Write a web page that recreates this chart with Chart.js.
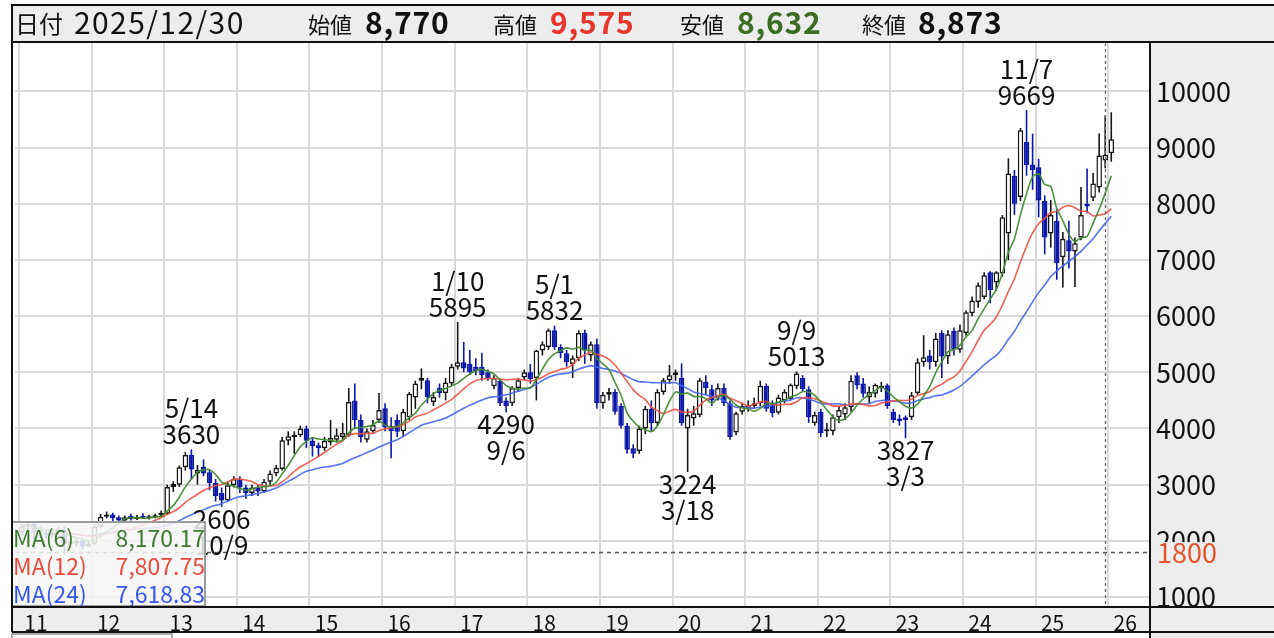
<!DOCTYPE html>
<html lang="ja">
<head>
<meta charset="utf-8">
<title>月足チャート</title>
<script src="https://cdn.jsdelivr.net/npm/chart.js@4.4.1/dist/chart.umd.min.js"></script>
<style>
html,body{margin:0;padding:0;background:#ffffff;overflow:hidden;}
#box{width:1274px;height:638px;position:relative;}
canvas{display:block;}
</style>
</head>
<body>
<div id="box"><canvas id="chart" width="1274" height="638"></canvas></div>
<script>
// ---------- data (monthly candles, Jan 2011 .. Jan 2026) ----------
const startYear = 2011;
const opens = [
  2150,2250,2300,2150,2150,2100,2150,2200,1950,1950,2000,1900, // 2011
  1950,2250,2430,2470,2420,2360,2440,2390,2440,2400,2420,2450, // 2012
  2480,2960,3000,3310,3530,3200,3320,3220,3030,2850,2720,2990, // 2013
  3100,2950,2850,2950,2880,3050,3200,3280,3780,3850,3880,4000, // 2014
  3780,3700,3650,3750,3800,3850,3880,4500,4150,3800,3950,4150, // 2015
  4360,4050,4150,3950,4200,4550,4850,4860,4470,4720,4630,4800, // 2016
  5100,5180,5150,5100,5100,5000,4750,4850,4500,4450,4720,4910, // 2017
  5000,4900,5390,5450,5750,5450,5340,5150,5250,5700,5300,5500, // 2018
  4450,4600,4650,4400,4050,3650,3600,4000,4350,4100,4650,4860, // 2019
  4950,4900,4000,4180,4240,4830,4700,4560,4720,4450,3930,4300, // 2020
  4350,4400,4450,4760,4450,4280,4500,4530,4750,4900,4700,4100, // 2021
  4300,3950,3950,4200,4250,4380,4950,4800,4550,4620,4720,4770, // 2022
  4300,4180,4200,4200,4630,5180,5300,5180,5700,5280,5740,5400, // 2023
  5700,6050,6250,6340,6780,6600,6760,7470,8500,8120,9100,8700, // 2024
  8650,8050,7470,7700,7050,7350,7150,7400,8000,8110,8290,8770, // 2025
  8900                                                         // 2026
];
const highs = [
  2300,2350,2350,2250,2200,2200,2250,2250,2050,2050,2050,2000,
  2300,2480,2520,2500,2450,2450,2480,2460,2490,2460,2480,2540,
  3000,3060,3340,3580,3630,3350,3450,3280,3100,2950,3050,3150,
  3150,3000,3000,3000,3100,3250,3350,3850,3950,3950,4050,4050,
  3850,3750,3850,4150,4000,4100,4720,4800,4250,4000,4150,4630,
  4450,4200,4250,4350,4650,4850,5070,4900,4650,4800,4900,5150,
  5895,5540,5400,5250,5350,5050,4950,4880,4550,4750,4900,5050,
  5150,5400,5550,5780,5832,5500,5400,5300,5750,5760,5550,5600,
  4650,4720,4700,4450,4100,3720,4050,4400,4500,4700,4900,5130,
  5050,5160,4350,4400,4900,4950,4780,4800,4800,4500,4300,4450,
  4500,4550,4850,4800,4500,4600,4700,4800,5013,4950,4750,4300,
  4350,4100,4250,4400,4450,4950,5000,4900,4750,4800,4830,4800,
  4350,4250,4230,4650,5250,5660,5400,5700,5750,5750,5800,5850,
  6100,6350,6600,6780,6800,6800,7800,8810,8600,9350,9669,9250,
  8800,8150,8070,7900,7500,7700,7400,8300,8630,8550,9250,9575,
  9630
];
const lows = [
  2100,2200,1850,2050,2050,2050,2100,1757,1880,1900,1850,1880,
  1930,2230,2400,2350,2300,2330,2360,2370,2390,2380,2400,2430,
  2460,2870,2960,3250,3100,3000,3150,2900,2700,2606,2700,2950,
  2850,2750,2800,2800,2850,3000,3150,3250,3700,3550,3850,3650,
  3500,3500,3600,3700,3750,3800,3850,4000,3750,3750,3900,4100,
  3950,3470,3850,3850,4150,4350,4700,4450,4400,4550,4500,4750,
  5050,5000,4950,4950,4850,4850,4700,4400,4290,4400,4650,4850,
  4800,4500,5300,5400,5400,5250,5100,4900,5200,5150,5200,4350,
  4350,4500,4250,4000,3550,3470,3550,3900,3950,4050,4600,4800,
  4850,4050,3224,4050,4200,4600,4400,4500,4400,3800,3880,4250,
  4300,4350,4400,4300,4200,4250,4450,4500,4700,4650,4100,4050,
  3850,3850,3880,4100,4150,4300,4700,4550,4450,4550,4650,4350,
  4100,4050,3827,4150,4600,5100,5050,5100,4900,5150,5300,5350,
  5650,6000,6150,6300,6230,6450,6700,7000,7800,8050,8500,8250,
  7760,7100,7220,6650,6510,6850,6520,7350,7830,8050,8200,8632,
  8750
];
const closes = [
  2250,2300,2150,2150,2100,2150,2200,1950,1950,2000,1900,1950,
  2250,2430,2470,2400,2360,2420,2390,2430,2410,2430,2450,2500,
  2960,3010,3310,3530,3270,3260,3200,3030,2800,2720,2990,3100,
  2950,2850,2950,2880,3050,3200,3300,3790,3860,3890,4000,3780,
  3690,3650,3780,3830,3880,3920,4470,4150,3850,3950,4060,4330,
  4020,3950,3940,4300,4620,4800,4900,4560,4560,4630,4820,5100,
  5180,5070,5000,5020,4950,4880,4900,4450,4400,4720,4860,5000,
  4880,5390,5500,5750,5450,5340,5180,5250,5700,5400,5500,4450,
  4600,4650,4300,4050,3620,3550,4000,4350,4100,4650,4860,4950,
  5000,4100,4240,4270,4860,4720,4500,4720,4450,3850,4270,4400,
  4420,4450,4760,4350,4270,4550,4650,4780,4980,4700,4200,4240,
  3920,3970,4200,4330,4380,4850,4770,4620,4650,4780,4760,4400,
  4150,4130,4150,4590,5180,5270,5180,5600,5280,5680,5400,5750,
  6070,6280,6550,6730,6460,6780,7760,8540,8000,9310,8690,8600,
  8060,7400,7800,6940,7380,7150,7300,7800,7950,8360,8860,8873,
  9150
];
// x-axis year labels (a label per January)
const yearLabels = ['11','12','13','14','15','16','17','18','19','20','21','22','23','24','25','26'];
// y-axis ticks
const priceTicks = [1000,2000,3000,4000,5000,6000,7000,8000,9000,10000];
// swing highs / lows annotated on the chart
const swingMonth = ['2013/05','2013/10','2017/01','2017/09','2018/05','2020/03','2021/09','2023/03','2024/11'];
const swingValue = [3630, 2606, 5895, 4290, 5832, 3224, 5013, 3827, 9669];
const swingDate  = ['5/14','10/9','1/10','9/6','5/1','3/18','9/9','3/3','11/7'];
const swingKind  = ['H','L','H','L','H','L','H','L','H'];
// moving averages shown in legend
const maPeriods = [6, 12, 24];
const maNames   = ['MA(6)','MA(12)','MA(24)'];
const maLegendValues = ['8,170.17','7,807.75','7,618.83'];
// header (selected candle)
const headerDate = '2025/12/30';
const headerOpen = '8,770', headerHigh = '9,575', headerLow = '8,632', headerClose = '8,873';
const selectedMonth = '2025/12';
const alertLevel = 1800;

// ---------- helpers ----------
const FONT = "'Noto Sans CJK JP','Noto Sans',sans-serif";
const PANEL = '#ededed';
const BLUE = '#0a16a6';
const MA_COLORS = ['rgba(65,140,50,0.95)','rgba(240,80,65,0.9)','rgba(65,100,240,0.9)'];
const MA_TEXT = ['#3d7c2f','#ea4a3c','#3456ee'];

const monthLabels = opens.map((_, i) => (startYear + Math.floor(i / 12)) + '/' + String(i % 12 + 1).padStart(2, '0'));
const idxOf = m => monthLabels.indexOf(m);

function movingAverage(values, n) {
  return values.map((_, i) => {
    const part = values.slice(Math.max(0, i - n + 1), i + 1);
    return part.reduce((a, b) => a + b, 0) / part.length;
  });
}

const isUp = closes.map((c, i) => c >= opens[i]);
const wickData = highs.map((h, i) => ({ x: i, y: [lows[i], h] }));
const bodyData = closes.map((c, i) => ({ x: i, y: [opens[i], c] }));
const bodyFill = isUp.map(u => u ? '#ffffff' : BLUE);
const lineCol = isUp.map(u => u ? '#151515' : BLUE);

const maDatasets = maPeriods.map((p, k) => ({
  type: 'line',
  label: maNames[k],
  data: movingAverage(closes, p).map((v, i) => ({ x: i, y: v })),
  borderColor: MA_COLORS[k],
  borderWidth: 1.6,
  pointRadius: 0,
  tension: 0.25,
  order: 1
}));

// ---------- plugins ----------
const framePlugin = {
  id: 'frame',
  beforeDraw(chart) {
    const c = chart.ctx;
    c.save();
    c.fillStyle = '#ffffff';
    c.fillRect(0, 0, chart.width, chart.height);
    c.fillStyle = PANEL;
    c.fillRect(12, 4, chart.width - 12, 38);
    c.fillRect(1150, 42, chart.width - 1150, chart.height - 42);
    c.fillRect(12, 607, chart.width - 12, 25);
    c.restore();
  },
  afterDatasetsDraw(chart) {
    const c = chart.ctx, xs = chart.scales.x, ys = chart.scales.y, a = chart.chartArea;
    c.save();
    // alert level dashed line
    const yl = Math.round(ys.getPixelForValue(alertLevel)) + 0.5;
    c.strokeStyle = '#555';
    c.lineWidth = 1.3;
    c.setLineDash([4, 4]);
    c.beginPath(); c.moveTo(a.left, yl); c.lineTo(a.right, yl); c.stroke();
    // crosshair on selected month
    const xc = Math.round(xs.getPixelForValue(idxOf(selectedMonth))) + 0.5;
    c.strokeStyle = '#666';
    c.setLineDash([3, 3]);
    c.beginPath(); c.moveTo(xc, a.top); c.lineTo(xc, a.bottom); c.stroke();
    c.setLineDash([]);
    // swing annotations
    c.fillStyle = '#111';
    c.font = '26px ' + FONT;
    c.textAlign = 'center';
    c.textBaseline = 'middle';
    swingMonth.forEach((m, k) => {
      const x = xs.getPixelForValue(idxOf(m));
      const y = ys.getPixelForValue(swingValue[k]);
      if (swingKind[k] === 'H') {
        c.fillText(String(swingValue[k]), x, y - 15);
        c.fillText(swingDate[k], x, y - 41);
      } else {
        c.fillText(String(swingValue[k]), x, y + 12);
        c.fillText(swingDate[k], x, y + 38);
      }
    });
    c.restore();
  },
  afterDraw(chart) {
    const c = chart.ctx, ys = chart.scales.y;
    c.save();
    // alert level label on axis
    const yl = ys.getPixelForValue(alertLevel);
    c.fillStyle = PANEL;
    c.fillRect(1152, yl - 10, 110, 21);
    c.fillStyle = '#e5532d';
    c.font = '27px ' + FONT;
    c.textAlign = 'left';
    c.textBaseline = 'middle';
    c.fillText(String(alertLevel), 1157, yl + 1);

    // MA legend box
    c.fillStyle = 'rgba(246,246,246,0.86)';
    c.fillRect(12, 522, 193, 85);
    c.strokeStyle = '#9c9c9c';
    c.lineWidth = 2;
    c.strokeRect(12, 522, 193, 84);
    c.font = '23px ' + FONT;
    c.textBaseline = 'middle';
    maNames.forEach((n, k) => {
      const y = 538 + k * 28;
      c.fillStyle = MA_TEXT[k];
      c.textAlign = 'left';
      c.fillText(n, 13, y);
      c.textAlign = 'right';
      c.fillText(maLegendValues[k], 205, y);
    });

    // next panel legend (cut off)
    c.strokeStyle = '#aaaaaa';
    c.lineWidth = 2;
    c.strokeRect(12, 634, 160, 12);

    // header texts
    c.textAlign = 'left';
    c.textBaseline = 'middle';
    c.fillStyle = '#111';
    c.font = '24px ' + FONT;
    c.fillText('日付', 15, 24);
    c.font = '30px ' + FONT;
    c.letterSpacing = '1.4px';
    c.fillText(headerDate, 74, 23);
    c.letterSpacing = '0px';
    const items = [
      ['始値', headerOpen, '#111', 308, 365],
      ['高値', headerHigh, '#e8352b', 493, 550],
      ['安値', headerLow, '#3b6d23', 680, 737],
      ['終値', headerClose, '#111', 862, 918]
    ];
    items.forEach(([lab, val, col, xl, xv]) => {
      c.fillStyle = '#111';
      c.font = '22px ' + FONT;
      c.fillText(lab, xl, 25);
      c.fillStyle = col;
      c.font = 'bold 30px ' + FONT;
      c.letterSpacing = '0.8px';
      c.fillText(val, xv, 23);
      c.letterSpacing = '0px';
    });

    // frame lines
    c.strokeStyle = '#111';
    c.lineWidth = 2;
    c.beginPath();
    c.moveTo(12, 5); c.lineTo(chart.width, 5);
    c.moveTo(12, 42); c.lineTo(chart.width, 42);
    c.moveTo(12, 4); c.lineTo(12, 632);
    c.moveTo(1150, 42); c.lineTo(1150, chart.height);
    c.moveTo(12, 607); c.lineTo(chart.width, 607);
    c.moveTo(12, 632); c.lineTo(chart.width, 632);
    c.stroke();
    c.restore();
  }
};

// ---------- chart ----------
new Chart(document.getElementById('chart'), {
  type: 'bar',
  data: {
    datasets: [
      {
        type: 'bar', label: 'wick', data: wickData,
        backgroundColor: lineCol, borderWidth: 0,
        barThickness: 1.6, grouped: false, order: 3, inflateAmount: 0
      },
      {
        type: 'bar', label: 'body', data: bodyData,
        backgroundColor: bodyFill, borderColor: lineCol, borderWidth: 1.5,
        borderSkipped: false, barThickness: 5.5, minBarLength: 2,
        grouped: false, order: 2, inflateAmount: 0
      },
      ...maDatasets
    ]
  },
  options: {
    responsive: false,
    animation: false,
    devicePixelRatio: 1,
    layout: { padding: { left: 15, top: 43, right: 0, bottom: 0 } },
    plugins: { legend: { display: false }, tooltip: { enabled: false } },
    scales: {
      x: {
        type: 'linear', position: 'bottom', offset: false,
        min: -1.15, max: 186.4,
        afterBuildTicks: s => { s.ticks = yearLabels.map((_, k) => ({ value: 12 * k - 0.5 })); },
        afterFit: s => { s.height = 31; },
        ticks: {
          callback: (v, i) => yearLabels[i],
          autoSkip: false, maxRotation: 0, labelOffset: 17, padding: 3,
          color: '#111', font: { family: FONT, size: 21 }
        },
        grid: { color: '#d9d9d9', lineWidth: 2, drawTicks: false, offset: false },
        border: { display: false }
      },
      y: {
        type: 'linear', position: 'right',
        min: 822, max: 10863,
        afterBuildTicks: s => { s.ticks = priceTicks.map(v => ({ value: v })); },
        afterFit: s => { s.width = 124; },
        ticks: {
          callback: v => String(v),
          padding: 6, color: '#111', crossAlign: 'near',
          font: { family: FONT, size: 27 }
        },
        grid: { color: '#d9d9d9', lineWidth: 2, drawTicks: false },
        border: { display: false }
      }
    }
  },
  plugins: [framePlugin]
});
</script>
</body>
</html>
